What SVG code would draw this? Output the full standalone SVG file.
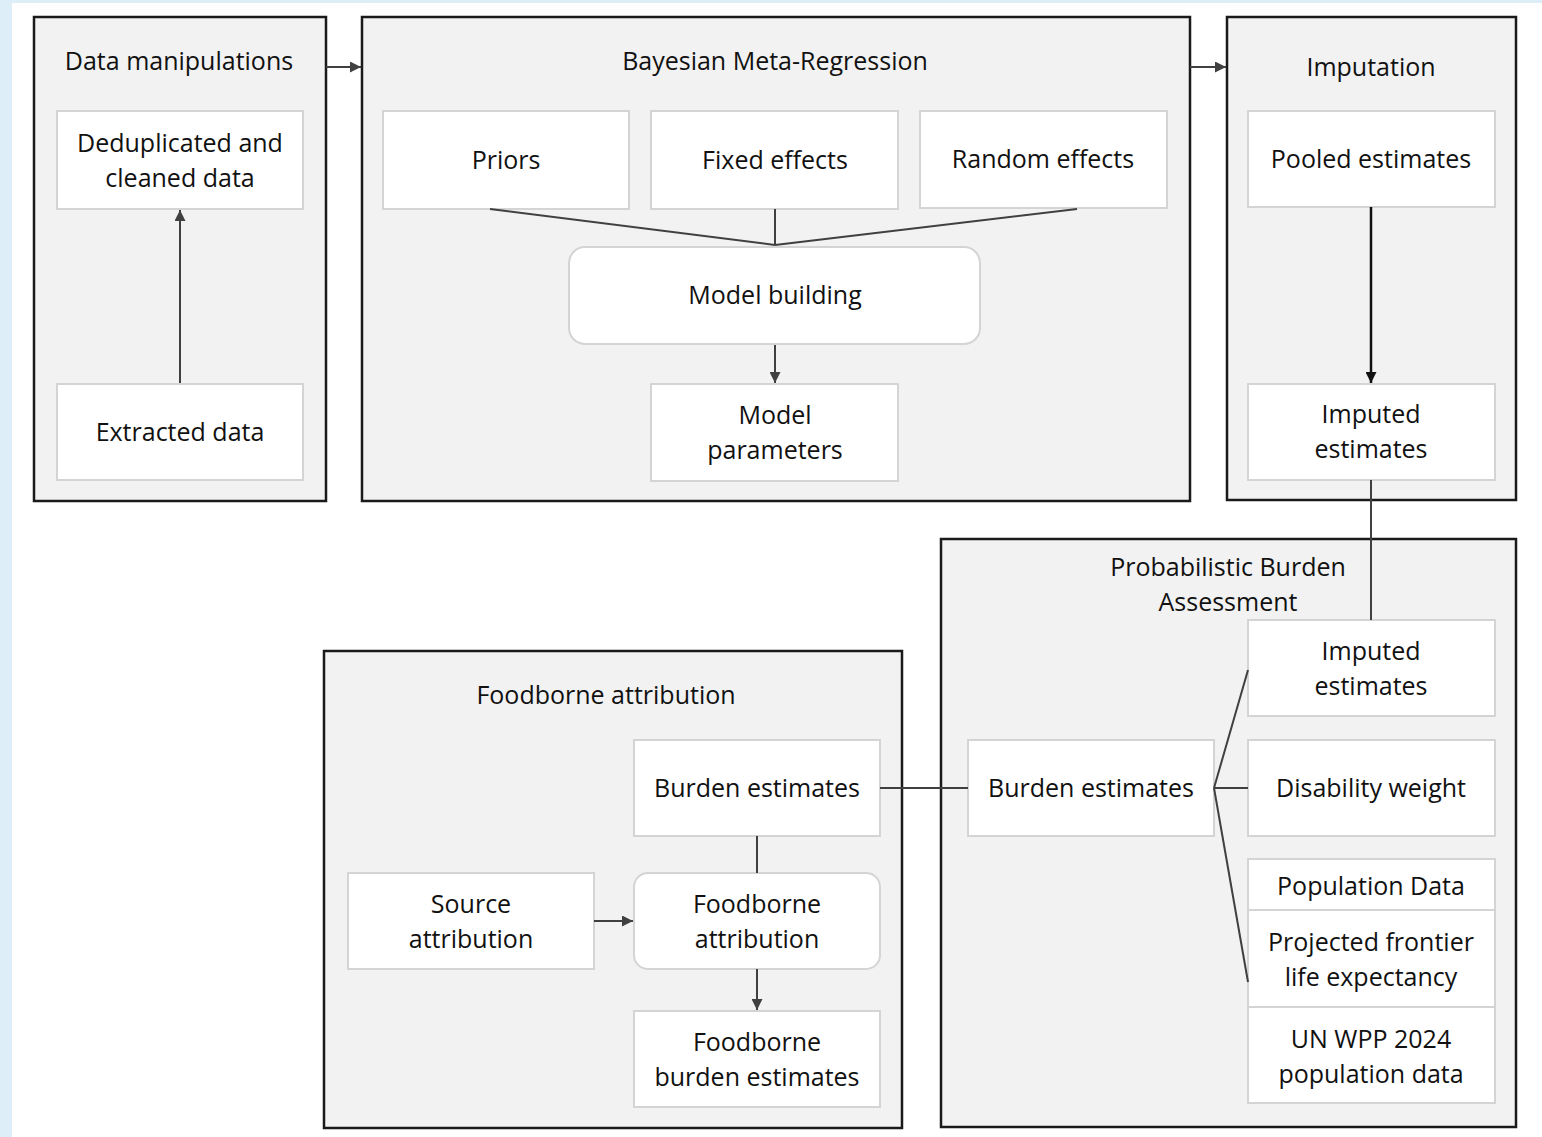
<svg xmlns="http://www.w3.org/2000/svg" width="1542" height="1137" viewBox="0 0 1542 1137">
<style>
.bg{fill:#ffffff}
.strip{fill:#ddeef8}
.outer{fill:#f2f2f2;stroke:#1a1a1a;stroke-width:2.5}
.inner{fill:#ffffff;stroke:#d4d4d4;stroke-width:2}
text{font-family:"Open Sans","Noto Sans","Liberation Sans",sans-serif;font-size:25px;fill:#111111;text-anchor:middle}
.conn line,.conn path{stroke:#404040;stroke-width:2;fill:none}
</style>
<defs>
<marker id="ah" viewBox="0 0 10 10" refX="10" refY="5" markerWidth="12" markerHeight="11" orient="auto" markerUnits="userSpaceOnUse">
<path d="M0,0 L10,5 L0,10 z" fill="#404040"/>
</marker>
<marker id="ahb" viewBox="0 0 10 10" refX="10" refY="5" markerWidth="12" markerHeight="11" orient="auto" markerUnits="userSpaceOnUse">
<path d="M0,0 L10,5 L0,10 z" fill="#111111"/>
</marker>
</defs>
<rect class="bg" x="0" y="0" width="1542" height="1137"/>
<rect class="strip" x="0" y="0" width="1542" height="3"/>
<rect class="strip" x="0" y="0" width="12" height="1137"/>

<g id="data-manipulations">
<rect class="outer" x="34" y="17" width="292" height="484"/>
<text x="179" y="70">Data manipulations</text>
</g>
<g id="deduplicated">
<rect class="inner" x="57" y="111" width="246" height="98"/>
<text x="180" y="152">Deduplicated and</text>
<text x="180" y="187">cleaned data</text>
</g>
<g id="extracted">
<rect class="inner" x="57" y="384" width="246" height="96"/>
<text x="180" y="441">Extracted data</text>
</g>

<g id="bayesian">
<rect class="outer" x="362" y="17" width="828" height="484"/>
<text x="775" y="70">Bayesian Meta-Regression</text>
</g>
<g id="priors">
<rect class="inner" x="383" y="111" width="246" height="98"/>
<text x="506" y="169">Priors</text>
</g>
<g id="fixed-effects">
<rect class="inner" x="651" y="111" width="247" height="98"/>
<text x="775" y="169">Fixed effects</text>
</g>
<g id="random-effects">
<rect class="inner" x="920" y="111" width="247" height="97"/>
<text x="1043" y="168">Random effects</text>
</g>
<g id="model-building">
<rect class="inner" x="569" y="247" width="411" height="97" rx="16"/>
<text x="775" y="304">Model building</text>
</g>
<g id="model-parameters">
<rect class="inner" x="651" y="384" width="247" height="97"/>
<text x="775" y="424">Model</text>
<text x="775" y="459">parameters</text>
</g>

<g id="imputation">
<rect class="outer" x="1227" y="17" width="289" height="483"/>
<text x="1371" y="76">Imputation</text>
</g>
<g id="pooled">
<rect class="inner" x="1248" y="111" width="247" height="96"/>
<text x="1371" y="168">Pooled estimates</text>
</g>
<g id="imputed-1">
<rect class="inner" x="1248" y="384" width="247" height="96"/>
<text x="1371" y="423">Imputed</text>
<text x="1371" y="458">estimates</text>
</g>

<g id="probabilistic">
<rect class="outer" x="941" y="539" width="575" height="588"/>
<text x="1228" y="576">Probabilistic Burden</text>
<text x="1228" y="611">Assessment</text>
</g>
<g id="imputed-2">
<rect class="inner" x="1248" y="620" width="247" height="96"/>
<text x="1371" y="660">Imputed</text>
<text x="1371" y="695">estimates</text>
</g>
<g id="disability">
<rect class="inner" x="1248" y="740" width="247" height="96"/>
<text x="1371" y="797">Disability weight</text>
</g>
<g id="population">
<rect class="inner" x="1248" y="859" width="247" height="244"/>
<line x1="1248" y1="910" x2="1495" y2="910" stroke="#d4d4d4" stroke-width="2"/>
<line x1="1248" y1="1007" x2="1495" y2="1007" stroke="#d4d4d4" stroke-width="2"/>
<text x="1371" y="895">Population Data</text>
<text x="1371" y="951">Projected frontier</text>
<text x="1371" y="986">life expectancy</text>
<text x="1371" y="1048">UN WPP 2024</text>
<text x="1371" y="1083">population data</text>
</g>
<g id="burden-right">
<rect class="inner" x="968" y="740" width="246" height="96"/>
<text x="1091" y="797">Burden estimates</text>
</g>

<g id="foodborne">
<rect class="outer" x="324" y="651" width="578" height="477"/>
<text x="606" y="704">Foodborne attribution</text>
</g>
<g id="burden-left">
<rect class="inner" x="634" y="740" width="246" height="96"/>
<text x="757" y="797">Burden estimates</text>
</g>
<g id="foodborne-attr">
<rect class="inner" x="634" y="873" width="246" height="96" rx="14"/>
<text x="757" y="913">Foodborne</text>
<text x="757" y="948">attribution</text>
</g>
<g id="source-attr">
<rect class="inner" x="348" y="873" width="246" height="96"/>
<text x="471" y="913">Source</text>
<text x="471" y="948">attribution</text>
</g>
<g id="foodborne-burden">
<rect class="inner" x="634" y="1011" width="246" height="96"/>
<text x="757" y="1051">Foodborne</text>
<text x="757" y="1086">burden estimates</text>
</g>

<g class="conn" id="connectors">
<line x1="180" y1="383" x2="180" y2="210" marker-end="url(#ah)"/>
<line x1="326" y1="67" x2="361" y2="67" marker-end="url(#ah)"/>
<line x1="1190" y1="67" x2="1226" y2="67" marker-end="url(#ah)"/>
<line x1="490" y1="209" x2="775" y2="245"/>
<line x1="775" y1="209" x2="775" y2="245"/>
<line x1="1077" y1="209" x2="775" y2="245"/>
<line x1="775" y1="345" x2="775" y2="383" marker-end="url(#ah)"/>
<line x1="1371" y1="207" x2="1371" y2="383" style="stroke:#111111;stroke-width:2.5" marker-end="url(#ahb)"/>
<line x1="1371" y1="480" x2="1371" y2="620"/>
<line x1="1214" y1="788" x2="1248" y2="670"/>
<line x1="1214" y1="788" x2="1248" y2="788"/>
<line x1="1214" y1="788" x2="1248" y2="982"/>
<line x1="880" y1="788" x2="968" y2="788"/>
<line x1="757" y1="836" x2="757" y2="873"/>
<line x1="594" y1="921" x2="633" y2="921" marker-end="url(#ah)"/>
<line x1="757" y1="969" x2="757" y2="1010" marker-end="url(#ah)"/>
</g>
</svg>
